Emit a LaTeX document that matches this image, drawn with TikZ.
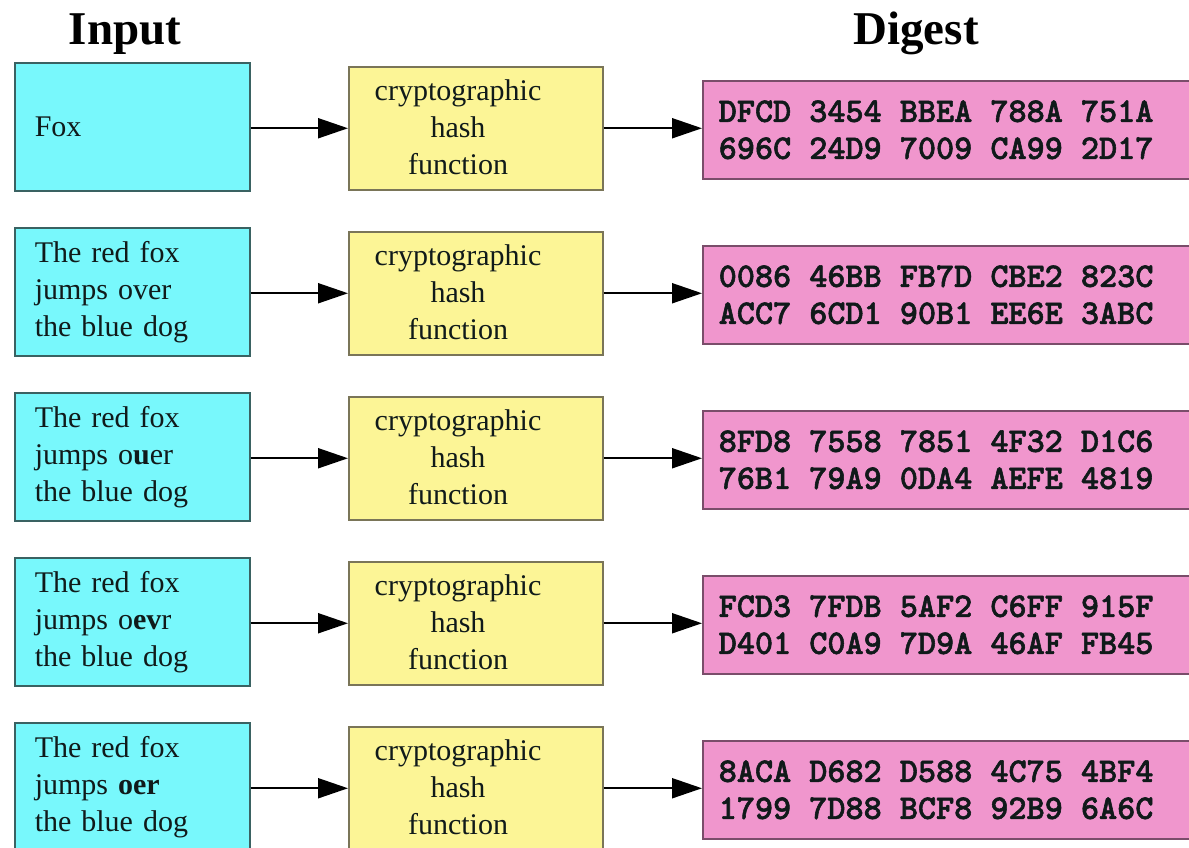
\documentclass[tikz,border=0pt]{standalone}
\usepackage{fontspec}
\setmainfont{Liberation Serif}
\newfontfamily\digestfont{lmmonolt10-bold.otf}[FakeBold=1.6]
\usetikzlibrary{arrows.meta}
\definecolor{incyan}{HTML}{78F8FC}
\definecolor{inborder}{HTML}{3A6262}
\definecolor{hashyellow}{HTML}{FCF596}
\definecolor{hashborder}{HTML}{7A7558}
\definecolor{digpink}{HTML}{F096CD}
\definecolor{digborder}{HTML}{7A4D6A}
\definecolor{txtdark}{HTML}{101A1A}
\newcommand\dgap{\hspace*{0.525em}}
\begin{document}
\begin{tikzpicture}[x=1pt,y=-1pt,
  inbox/.style={draw=inborder, fill=incyan, line width=1.5pt, anchor=north west,
    minimum width=235pt, minimum height=128pt, text width=195pt,
    inner xsep=20pt, inner ysep=0pt, align=left, text=txtdark,
    font=\fontsize{30}{37}\selectfont},
  hashbox/.style={draw=hashborder, fill=hashyellow, line width=1.5pt, anchor=north west,
    minimum width=254pt, minimum height=123pt, inner sep=0pt},
  hashtext/.style={align=center, inner sep=0pt, text=txtdark,
    font=\fontsize{30}{37}\selectfont},
  digbox/.style={draw=digborder, fill=digpink, line width=1.5pt, anchor=north west,
    minimum width=510pt, minimum height=98pt, text width=478pt,
    inner xsep=16pt, inner ysep=0pt, align=left, text=txtdark,
    font=\fontsize{34.5}{37}\digestfont\selectfont},
  head/.style={anchor=base, inner sep=0pt, font=\fontsize{47}{50}\bfseries\selectfont},
  arr/.style={draw=black, line width=2pt, -{Triangle[length=30pt,width=20pt]}}
]
\path[use as bounding box, clip] (0,0) rectangle (1189,847);
\fill[white] (0,0) rectangle (1189,847);

\node[head] (hin) at (125,44) {Input};
\node[head] (hdg) at (916,44) {Digest};

% Row 1
\node[inbox] (in1) at (14,62) {Fox};
\node[hashbox] (hb1) at (348,66) {};
\node[hashtext] (ht1) at (458,127.5) {cryptographic\\hash\\function};
\node[digbox] (dg1) at (702,80) {DFCD\dgap 3454\dgap BBEA\dgap 788A\dgap 751A\\696C\dgap 24D9\dgap 7009\dgap CA99\dgap 2D17};

% Row 2
\node[inbox] (in2) at (14,227) {The red fox\\jumps over\\the blue dog};
\node[hashbox] (hb2) at (348,231) {};
\node[hashtext] (ht2) at (458,292.5) {cryptographic\\hash\\function};
\node[digbox] (dg2) at (702,245) {0086\dgap 46BB\dgap FB7D\dgap CBE2\dgap 823C\\ACC7\dgap 6CD1\dgap 90B1\dgap EE6E\dgap 3ABC};

% Row 3
\node[inbox] (in3) at (14,392) {The red fox\\jumps o\textbf{u}er\\the blue dog};
\node[hashbox] (hb3) at (348,396) {};
\node[hashtext] (ht3) at (458,457.5) {cryptographic\\hash\\function};
\node[digbox] (dg3) at (702,410) {8FD8\dgap 7558\dgap 7851\dgap 4F32\dgap D1C6\\76B1\dgap 79A9\dgap 0DA4\dgap AEFE\dgap 4819};

% Row 4
\node[inbox] (in4) at (14,557) {The red fox\\jumps o\textbf{ev}r\\the blue dog};
\node[hashbox] (hb4) at (348,561) {};
\node[hashtext] (ht4) at (458,622.5) {cryptographic\\hash\\function};
\node[digbox] (dg4) at (702,575) {FCD3\dgap 7FDB\dgap 5AF2\dgap C6FF\dgap 915F\\D401\dgap C0A9\dgap 7D9A\dgap 46AF\dgap FB45};

% Row 5
\node[inbox] (in5) at (14,722) {The red fox\\jumps \textbf{oer}\\the blue dog};
\node[hashbox] (hb5) at (348,726) {};
\node[hashtext] (ht5) at (458,787.5) {cryptographic\\hash\\function};
\node[digbox] (dg5) at (702,740) {8ACA\dgap D682\dgap D588\dgap 4C75\dgap 4BF4\\1799\dgap 7D88\dgap BCF8\dgap 92B9\dgap 6A6C};

\foreach \i in {1,...,5}{
  \draw[arr] (in\i.east |- hb\i.west) -- (hb\i.west);
  \draw[arr] (hb\i.east) -- (dg\i.west |- hb\i.east);
}
\end{tikzpicture}
\end{document}
